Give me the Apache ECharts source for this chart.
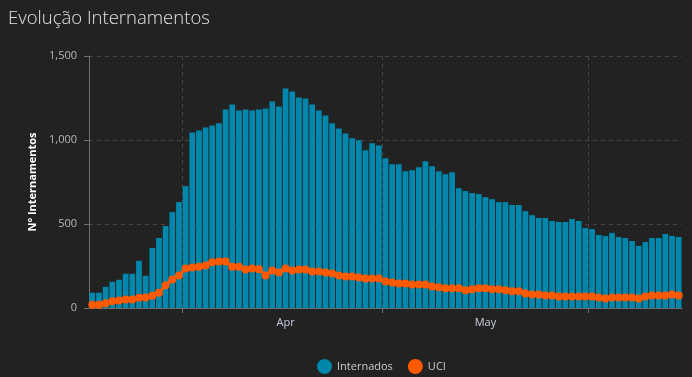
<!DOCTYPE html>
<html>
<head>
<meta charset="utf-8">
<style>
  html, body { margin: 0; padding: 0; background: #222222; }
  #chart { width: 692px; height: 377px; }
</style>
<script src="https://cdn.jsdelivr.net/npm/echarts@6/dist/echarts.min.js"></script>
</head>
<body>
<div id="chart"></div>
<script>
// daily values, 2020-03-18 .. 2020-06-14
const internados = [
  91, 91, 126, 156, 168, 204, 204, 281, 192, 358, 417, 488, 571, 630,
  725, 1045, 1057, 1075, 1087, 1099, 1182, 1211, 1176, 1182, 1176, 1182, 1188, 1229, 1199,
  1306, 1288, 1253, 1247, 1211, 1176, 1146, 1099, 1069, 1039, 1010, 998, 939, 980, 968,
  891, 856, 856, 814, 820, 838, 873, 844, 814, 796, 808, 713, 696, 684, 678,
  660, 648, 630, 630, 613, 613, 577, 553, 536, 536, 518, 512, 512, 530, 518, 476,
  470, 435, 429, 447, 423, 417, 399, 370, 393, 417, 417, 441, 429, 423
];
const uci = [
  20, 20, 28, 40, 45, 51, 51, 61, 63, 73, 91, 136, 170, 194,
  235, 241, 245, 253, 273, 277, 277, 245, 245, 229, 235, 231, 194, 223, 211,
  235, 223, 229, 229, 217, 217, 211, 206, 194, 188, 188, 182, 176, 176, 176,
  158, 152, 146, 146, 140, 140, 140, 128, 123, 117, 117, 117, 105, 111, 117,
  117, 111, 111, 105, 99, 99, 87, 81, 81, 75, 75, 69, 69, 69, 69, 69,
  69, 63, 57, 63, 63, 63, 63, 57, 69, 75, 75, 75, 81, 75
];
const monthNames = ['Jan', 'Feb', 'Mar', 'Apr', 'May', 'Jun', 'Jul', 'Aug', 'Sep', 'Oct', 'Nov', 'Dec'];
const yTicks = [0, 500, 1000, 1500];

const firstDay = Date.UTC(2020, 2, 18);
const days = Array.from({ length: internados.length }, (_, i) =>
  new Date(firstDay + i * 86400000).toISOString().slice(0, 10));
// month boundaries (tick + vertical grid) and mid-month labels
const monthStarts = days.map((d, i) => (d.endsWith('-01') ? i : -1)).filter((i) => i >= 0);

const axisGrey = '#6f6f6f';
const gridGrey = '#444444';

const chart = echarts.init(document.getElementById('chart'), null, { renderer: 'canvas' });

chart.setOption({
  backgroundColor: '#222222',
  animation: false,
  textStyle: { fontFamily: 'Open Sans' },
  title: {
    text: 'Evolução Internamentos',
    left: 3,
    top: 4,
    textStyle: { color: '#e2e2e2', fontSize: 18.5, fontWeight: 300, fontFamily: 'Open Sans' }
  },
  grid: { left: 89, right: 10, top: 56, bottom: 69 },
  legend: {
    data: ['Internados', 'UCI'],
    left: 312,
    top: 354,
    icon: 'circle',
    itemWidth: 15,
    itemHeight: 15,
    itemGap: 15,
    textStyle: { color: '#cccccc', fontSize: 11 }
  },
  xAxis: [
    {
      type: 'category',
      data: days,
      axisLine: { lineStyle: { color: axisGrey } },
      axisTick: { show: false },
      splitLine: { show: false },
      axisLabel: {
        color: '#c8cde0',
        fontSize: 11,
        margin: 9,
        interval: (idx, val) => val.endsWith('-16'),
        formatter: (val) => monthNames[Number(val.slice(5, 7)) - 1]
      }
    },
    {
      type: 'value',
      position: 'bottom',
      min: 0,
      max: days.length,
      axisLine: { show: false },
      axisLabel: { show: false },
      axisTick: { show: true, customValues: monthStarts, length: 5, lineStyle: { color: axisGrey } },
      splitLine: { show: true, customValues: monthStarts, lineStyle: { color: gridGrey, type: [4, 4] } }
    }
  ],
  yAxis: {
    type: 'value',
    min: yTicks[0],
    max: yTicks[yTicks.length - 1],
    interval: yTicks[1] - yTicks[0],
    name: 'N° Internamentos',
    nameLocation: 'middle',
    nameGap: 48,
    nameTextStyle: { color: '#ffffff', fontWeight: 'bold', fontSize: 11 },
    axisLine: { show: true, lineStyle: { color: axisGrey } },
    axisTick: { show: true, length: 5, lineStyle: { color: axisGrey } },
    axisLabel: { color: '#b8b8b8', fontSize: 11, margin: 12 },
    splitLine: { lineStyle: { color: gridGrey, type: [4, 4] } }
  },
  series: [
    {
      name: 'Internados',
      type: 'bar',
      data: internados,
      barCategoryGap: '14%',
      itemStyle: { color: '#0087ab' }
    },
    {
      name: 'UCI',
      type: 'line',
      data: uci,
      symbol: 'circle',
      symbolSize: 8,
      showSymbol: true,
      showAllSymbol: true,
      itemStyle: { color: '#ff5a00' },
      lineStyle: { color: '#ff5a00', width: 3 },
      z: 3
    }
  ]
});
</script>
</body>
</html>
